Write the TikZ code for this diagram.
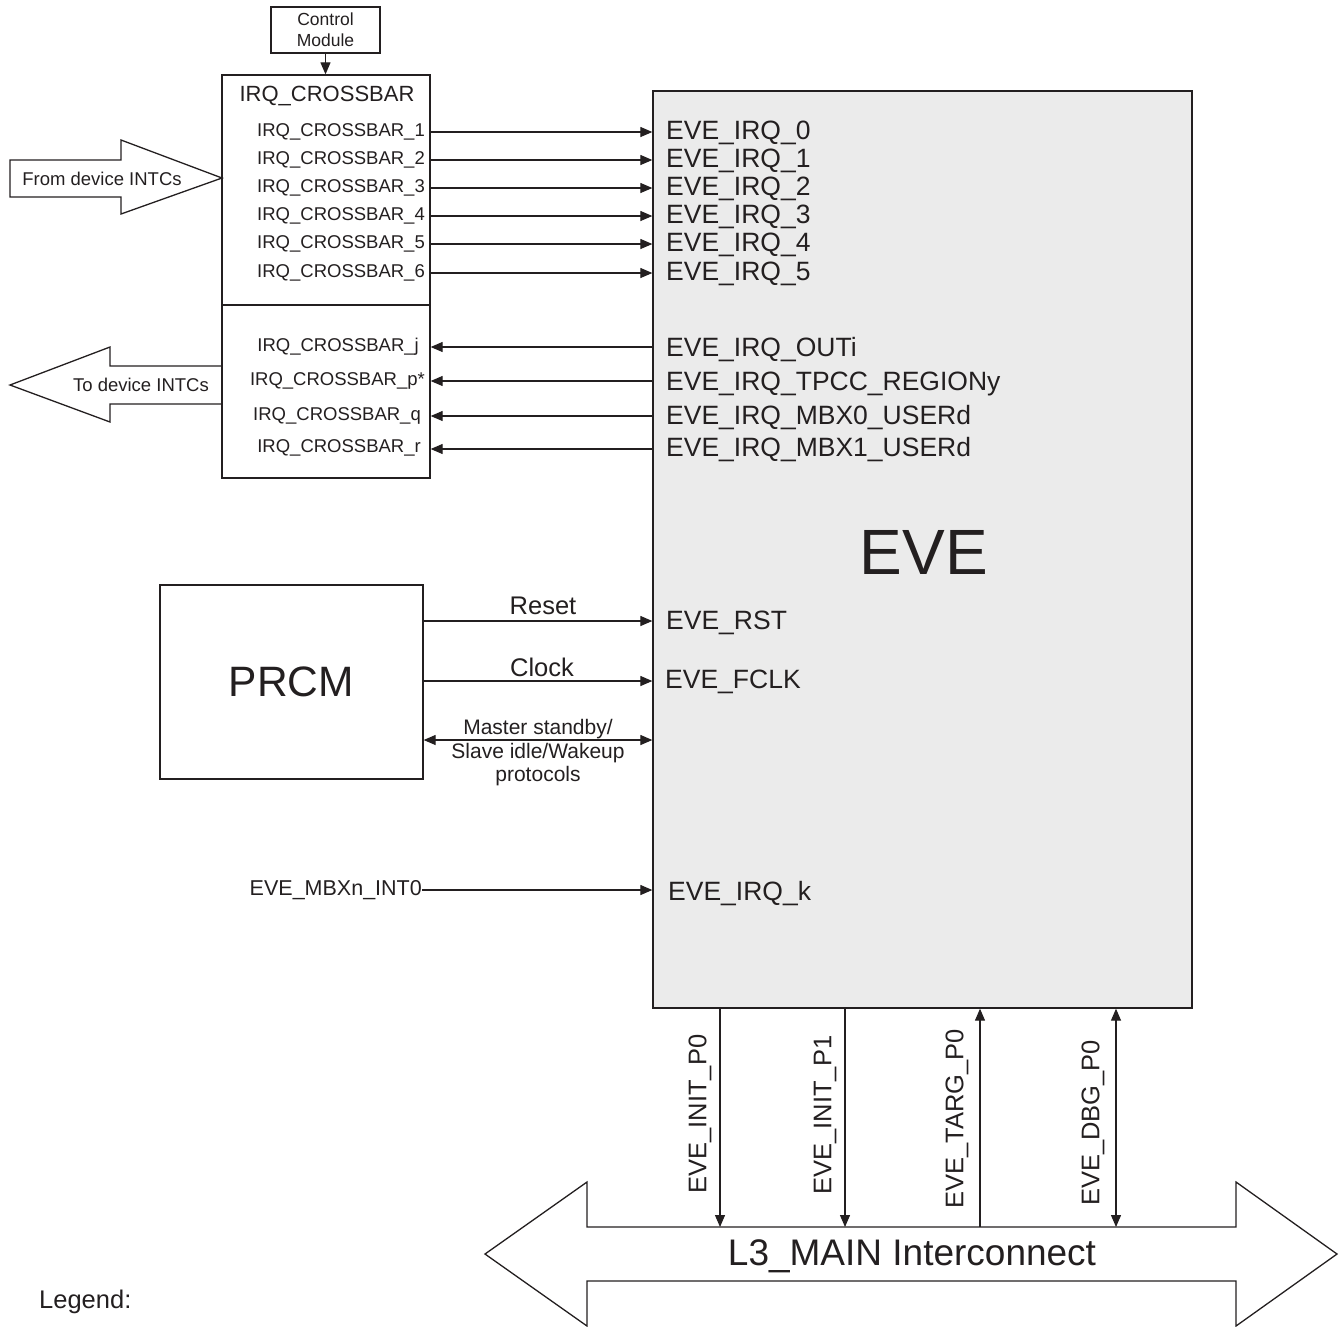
\documentclass[tikz,border=0pt]{standalone}
\usepackage{fontspec}
\setmainfont{Liberation Sans}
\usetikzlibrary{arrows.meta}
\definecolor{evegray}{HTML}{EBEBEB}
\definecolor{ink}{HTML}{231F20}
\begin{document}
\begin{tikzpicture}[x=1pt,y=-1pt,
  box/.style={draw=ink, line width=1.3pt, inner sep=0pt},
  sig/.style={draw=ink, line width=1.2pt},
  arr/.style={sig, -{Triangle[length=12pt,width=10pt]}},
  larr/.style={sig, {Triangle[length=12pt,width=10pt]}-},
  darr/.style={sig, {Triangle[length=12pt,width=10pt]}-{Triangle[length=12pt,width=10pt]}},
  lbl/.style={inner sep=0pt, anchor=west, text=ink, font=\fontsize{26.5}{30}\selectfont},
  xl/.style={inner sep=0pt, anchor=east, text=ink, font=\fontsize{18.5}{22}\selectfont},
  vl/.style={inner sep=0pt, rotate=90, text=ink, font=\fontsize{25.5}{30}\selectfont},
  fat/.style={draw=ink, line width=1.3pt, line join=miter}
]
\useasboundingbox (0,0) rectangle (1340,1326);

% EVE block
\node[box, fill=evegray, minimum width=539pt, minimum height=917pt] (eve) at (922.5,549.5) {};
\node[inner sep=0pt, text=ink, font=\fontsize{64}{70}\selectfont] (evet) at (924,552) {EVE};

% Control module and crossbar
\node[box, minimum width=109pt, minimum height=46pt, align=center, text=ink,
      font=\fontsize{17.5}{21}\selectfont] (cm) at (325.5,30) {Control\\Module};
\node[box, minimum width=208pt, minimum height=403pt] (xbar) at (326,276.5) {};
\draw[box] (xbar.west |- 0,305) -- (xbar.east |- 0,305);
\draw[arr] (cm.south) -- (cm.south |- xbar.north);
\node[inner sep=0pt, text=ink, font=\fontsize{22}{26}\selectfont] (xtitle) at (327,96) {IRQ\_CROSSBAR};

\foreach \i/\y in {0/132,1/160,2/188,3/216,4/244,5/273}{
  \pgfmathtruncatemacro\j{\i+1}
  \node[xl] (xo\i) at (425,\y) {IRQ\_CROSSBAR\_\j};
  \node[lbl] (ei\i) at (666,\y+1) {EVE\_IRQ\_\i};
  \draw[arr] (xbar.east |- xo\i.east) -- (eve.west |- xo\i.east);
}

\node[xl] (xj) at (419,347) {IRQ\_CROSSBAR\_j};
\node[xl] (xp) at (425,381) {IRQ\_CROSSBAR\_p*};
\node[xl] (xq) at (421,416) {IRQ\_CROSSBAR\_q};
\node[xl] (xr) at (421,448) {IRQ\_CROSSBAR\_r};
\node[lbl] (eo) at (666,350) {EVE\_IRQ\_OUTi};
\node[lbl] (et) at (666,384) {EVE\_IRQ\_TPCC\_REGIONy};
\node[lbl] (em0) at (666,418) {EVE\_IRQ\_MBX0\_USERd};
\node[lbl] (em1) at (666,450) {EVE\_IRQ\_MBX1\_USERd};
\coordinate (yj) at (0,347);
\coordinate (yp) at (0,381);
\coordinate (yq) at (0,416);
\coordinate (yr) at (0,449);
\foreach \c in {yj,yp,yq,yr}{
  \draw[larr] (xbar.east |- \c) -- (eve.west |- \c);
}

% From / To device INTCs
\draw[fat] (10,160) -- (121,160) -- (121,140) -- (222,178) -- (121,214) -- (121,197) -- (10,197) -- cycle;
\node[inner sep=0pt, text=ink, font=\fontsize{18.5}{22}\selectfont] (fromt) at (102,179) {From device INTCs};
\draw[fat] (222,366) -- (110,366) -- (110,347) -- (10,385) -- (110,422) -- (110,404) -- (222,404);
\node[inner sep=0pt, text=ink, font=\fontsize{18.5}{22}\selectfont] (tot) at (141,385) {To device INTCs};

% PRCM
\node[box, minimum width=263pt, minimum height=194pt, text=ink,
      font=\fontsize{42.5}{48}\selectfont] (prcm) at (291.5,682) {PRCM};
\coordinate (yrst) at (0,621);
\coordinate (yclk) at (0,681);
\coordinate (ystb) at (0,740);
\draw[arr] (prcm.east |- yrst) -- (eve.west |- yrst);
\draw[arr] (prcm.east |- yclk) -- (eve.west |- yclk);
\draw[darr] (prcm.east |- ystb) -- (eve.west |- ystb);
\node[inner sep=0pt, text=ink, font=\fontsize{25.5}{28}\selectfont] (rst) at (543,606) {Reset};
\node[inner sep=0pt, text=ink, font=\fontsize{25.5}{28}\selectfont] (clk) at (542,667) {Clock};
\node[inner sep=0pt, text=ink, align=center, font=\fontsize{21}{23.5}\selectfont] (stb) at (538,753)
  {Master standby/\\Slave idle/Wakeup\\protocols};
\node[lbl] (ersts) at (666,623) {EVE\_RST};
\node[lbl] (efclk) at (665,682) {EVE\_FCLK};

% Mailbox interrupt
\node[xl, font=\fontsize{21.5}{24}\selectfont] (mbx) at (422,890) {EVE\_MBXn\_INT0};
\draw[arr] (mbx.east) -- (eve.west |- mbx.east);
\node[lbl] (eirqk) at (668,894) {EVE\_IRQ\_k};

% L3 interconnect
\draw[fat] (485,1254) -- (587,1182) -- (587,1227) -- (1236,1227) -- (1236,1182) -- (1337,1254)
  -- (1236,1326) -- (1236,1281) -- (587,1281) -- (587,1326) -- cycle;
\node[inner sep=0pt, text=ink, font=\fontsize{37}{40}\selectfont] (l3) at (912,1256) {L3\_MAIN Interconnect};
\coordinate (b0) at (720,1227);
\coordinate (b1) at (845,1227);
\coordinate (b2) at (980,1227);
\coordinate (b3) at (1116,1227);
\draw[arr] (eve.south -| b0) -- (b0);
\draw[arr] (eve.south -| b1) -- (b1);
\draw[larr] (eve.south -| b2) -- (b2);
\draw[darr] (eve.south -| b3) -- (b3);
\node[vl] (p0) at (700,1114) {EVE\_INIT\_P0};
\node[vl] (p1) at (825,1115) {EVE\_INIT\_P1};
\node[vl] (tg) at (957,1119) {EVE\_TARG\_P0};
\node[vl] (dbg) at (1093,1123) {EVE\_DBG\_P0};

% Legend
\node[inner sep=0pt, anchor=west, text=ink, font=\fontsize{25.5}{30}\selectfont] (leg) at (39,1302) {Legend:};
\end{tikzpicture}
\end{document}
